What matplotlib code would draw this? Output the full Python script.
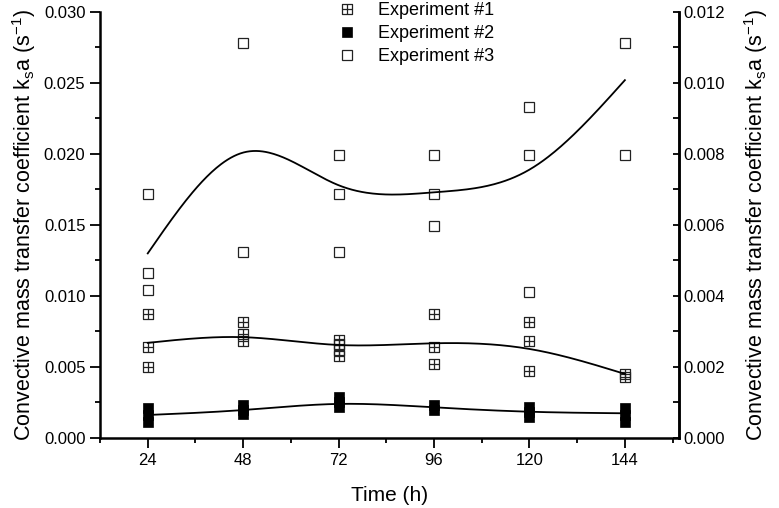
import numpy as np
import matplotlib
matplotlib.use("Agg")
import matplotlib.pyplot as plt
from matplotlib.path import Path
from matplotlib.ticker import MultipleLocator, FormatStrFormatter

plt.rcParams['font.family'] = ['Liberation Sans', 'DejaVu Sans']
plt.rcParams['mathtext.fontset'] = 'custom'
plt.rcParams['mathtext.rm'] = 'Liberation Sans'

times = [24, 48, 72, 96, 120, 144]

# Experiment #1 (crossed squares)
exp1_t = [24, 24, 24, 48, 48, 48, 72, 72, 72, 72, 96, 96, 96, 120, 120, 120, 144, 144]
exp1_v = [0.0087, 0.0064, 0.0050, 0.0082, 0.0073, 0.0068, 0.0069, 0.0066, 0.0062, 0.0058,
          0.0087, 0.0064, 0.0052, 0.0082, 0.0068, 0.0047, 0.0045, 0.0043]
# Experiment #2 (filled squares)
exp2_t = [24, 24, 24, 48, 48, 48, 72, 72, 72, 96, 96, 120, 120, 120, 144, 144, 144]
exp2_v = [0.0021, 0.0016, 0.0011, 0.0023, 0.0020, 0.0017, 0.0029, 0.0025, 0.0022,
          0.0023, 0.0020, 0.0022, 0.0018, 0.0015, 0.0021, 0.0016, 0.0011]
# Experiment #3 (open squares)
exp3_t = [24, 24, 24, 48, 48, 72, 72, 72, 96, 96, 96, 120, 120, 120, 144, 144]
exp3_v = [0.0172, 0.0116, 0.0104, 0.0278, 0.0131, 0.0199, 0.0172, 0.0131,
          0.0199, 0.0172, 0.0149, 0.0233, 0.0199, 0.0103, 0.0278, 0.0199]

# mean values the smooth curves go through
mean1 = [0.0067, 0.0071, 0.00655, 0.00667, 0.00627, 0.00451]
mean2 = [0.00162, 0.00197, 0.0024, 0.00216, 0.00185, 0.00174]
mean3 = [0.0130, 0.0201, 0.0178, 0.0173, 0.0189, 0.0252]


def natural_spline(x, y, xs):
    x = np.asarray(x, float); y = np.asarray(y, float)
    n = len(x); h = np.diff(x)
    A = np.zeros((n, n)); b = np.zeros(n)
    A[0, 0] = A[-1, -1] = 1
    for i in range(1, n - 1):
        A[i, i - 1] = h[i - 1]; A[i, i] = 2 * (h[i - 1] + h[i]); A[i, i + 1] = h[i]
        b[i] = 3 * ((y[i + 1] - y[i]) / h[i] - (y[i] - y[i - 1]) / h[i - 1])
    c = np.linalg.solve(A, b)
    bb = (y[1:] - y[:-1]) / h - h * (2 * c[:-1] + c[1:]) / 3
    d = (c[1:] - c[:-1]) / (3 * h)
    idx = np.clip(np.searchsorted(x, xs) - 1, 0, n - 2)
    dx = xs - x[idx]
    return y[idx] + bb[idx] * dx + c[idx] * dx ** 2 + d[idx] * dx ** 3


crossed = Path([(-1, -1), (1, -1), (1, 1), (-1, 1), (-1, -1), (0, -1), (0, 1), (-1, 0), (1, 0)],
               [Path.MOVETO, Path.LINETO, Path.LINETO, Path.LINETO, Path.CLOSEPOLY,
                Path.MOVETO, Path.LINETO, Path.MOVETO, Path.LINETO])

fig = plt.figure(figsize=(7.79, 5.08), dpi=100)
ax = fig.add_axes([0.1284, 0.1378, 0.7432, 0.8386])

ms = 6.5
h1, = ax.plot(exp1_t, exp1_v, ls='none', marker=crossed, ms=ms, mfc='none', mec='#222222', mew=0.9,
              label='Experiment #1')
h2, = ax.plot(exp2_t, exp2_v, ls='none', marker='s', ms=ms + 0.5, mfc='black', mec='black', mew=0.5,
              label='Experiment #2')
h3, = ax.plot(exp3_t, exp3_v, ls='none', marker='s', ms=ms, mfc='none', mec='#222222', mew=0.9,
              label='Experiment #3')

xs = np.linspace(times[0], times[-1], 300)
for m in (mean1, mean2, mean3):
    ax.plot(xs, natural_spline(times, m, xs), color='black', lw=1.3)

ax.set_xlim(12, 157.6)
ax.set_ylim(0, 0.030)
ax.set_xticks(times)
ax.xaxis.set_minor_locator(MultipleLocator(12))
ax.yaxis.set_major_locator(MultipleLocator(0.005))
ax.yaxis.set_minor_locator(MultipleLocator(0.0025))
ax.yaxis.set_major_formatter(FormatStrFormatter('%.3f'))
ax.tick_params(which='major', direction='out', length=7, width=1.3, labelsize=12)
ax.tick_params(which='minor', direction='out', length=3.5, width=1.3)
ax.spines['top'].set_visible(False)
for s in ('left', 'bottom', 'right'):
    ax.spines[s].set_linewidth(1.8)

ax2 = ax.twinx()
ax2.set_ylim(0, 0.012)
ax2.yaxis.set_major_locator(MultipleLocator(0.002))
ax2.yaxis.set_minor_locator(MultipleLocator(0.001))
ax2.yaxis.set_major_formatter(FormatStrFormatter('%.3f'))
ax2.tick_params(which='both', direction='in', length=4, width=1.3, labelsize=12)
ax2.spines['top'].set_visible(False)
ax2.spines['right'].set_linewidth(1.8)
ax2.spines['left'].set_visible(False)
ax2.spines['bottom'].set_visible(False)

ylab = 'Convective mass transfer coefficient k$_\\mathregular{s}$a (s$^\\mathregular{-1}$)'
ax.set_xlabel('Time (h)', fontsize=15, labelpad=13)
ax.set_ylabel(ylab, fontsize=15.5, labelpad=4)
ax2.set_ylabel(ylab, fontsize=15.5, labelpad=12)

fig.legend(handles=[h1, h2, h3], loc='upper left', bbox_to_anchor=(0.425, 1.01),
           frameon=False, fontsize=13, handlelength=1.0, handletextpad=1.2,
           labelspacing=0.33, borderaxespad=0)

fig.savefig('out.png', dpi=100)
